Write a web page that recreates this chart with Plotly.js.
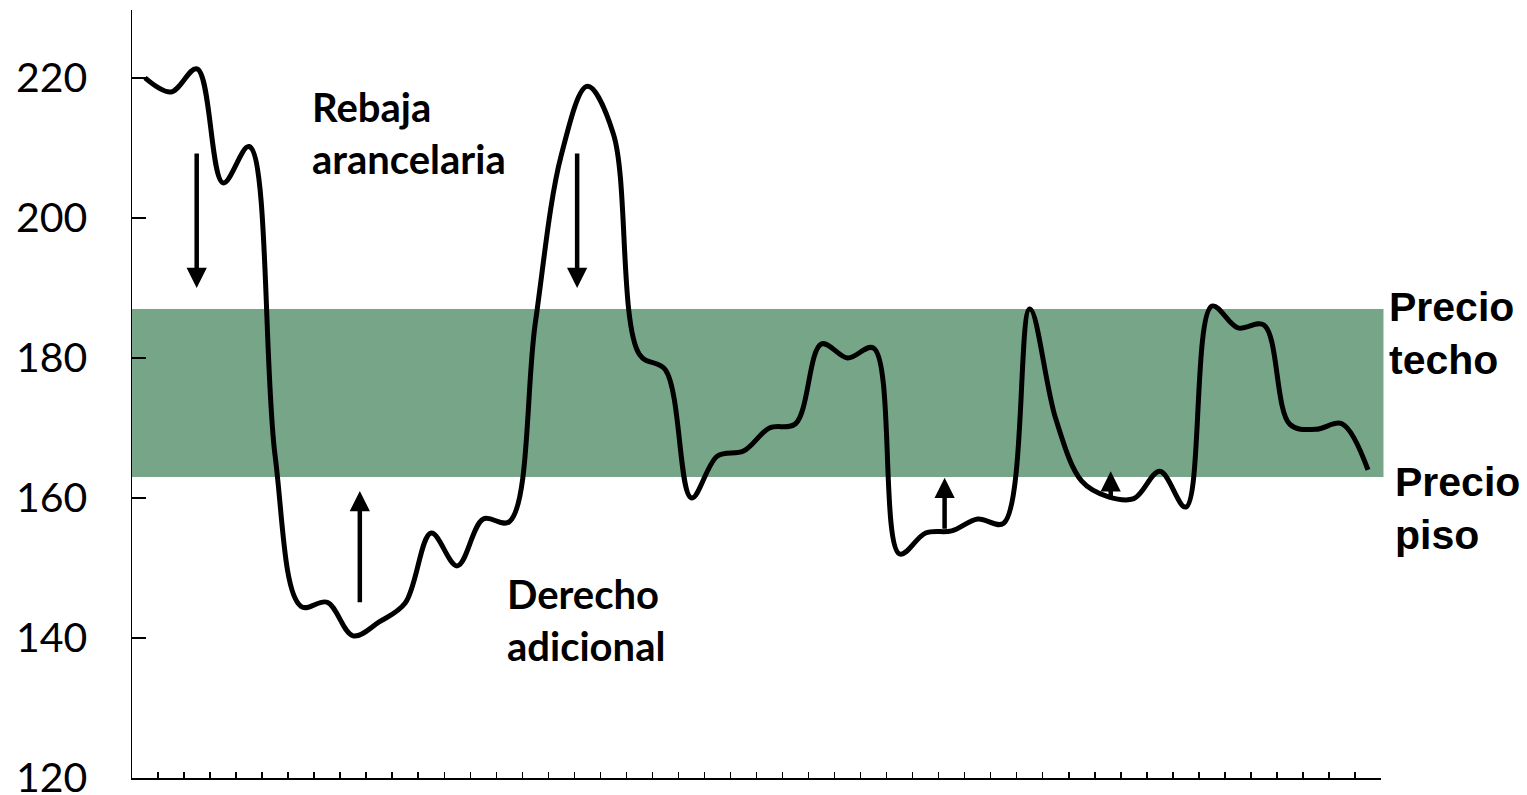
<!DOCTYPE html>
<html>
<head>
<meta charset="utf-8">
<script src="https://cdn.plot.ly/plotly-3.0.1.min.js"></script>
<style>
  html, body { margin: 0; padding: 0; background: #ffffff; }
  #chart { width: 1527px; height: 795px; }
</style>
</head>
<body>
<div id="chart"></div>
<script>
// ---- data ----
const periods = ['1','2','3','4','5','6','7','8','9','10','11','12','13','14','15','16',
  '17','18','19','20','21','22','23','24','25','26','27','28','29','30','31','32',
  '33','34','35','36','37','38','39','40','41','42','43','44','45','46','47','48'];
const prices = [220.0, 218.0, 221.3, 205.0, 210.2, 166.0, 144.5, 145.1,
  140.3, 142.3, 145.0, 155.0, 150.3, 157.0, 156.6, 185.0,
  209.0, 218.8, 212.0, 180.5, 178.3, 160.0, 166.0, 166.7,
  170.0, 170.6, 182.0, 180.0, 181.4, 152.0, 155.0, 155.3,
  157.0, 156.4, 187.0, 171.3, 162.4, 160.2, 159.9, 163.8,
  158.7, 187.4, 184.3, 184.7, 170.5, 169.8, 170.6, 164.0];
const priceFloor = 163;
const priceCeiling = 187;
const yTickVals = [120, 140, 160, 180, 200, 220];
const yTickText = ['120', '140', '160', '180', '200', '220'];

// arrows: horizontal position (fraction of plot width), tail value, tip value
const arrowPos  = [0.0518, 0.3564, 0.1824, 0.6506, 0.7836];
const arrowFrom = [209.4, 209.4, 144.9, 155.4, 159.6];
const arrowTo   = [190.0, 190.0, 161.0, 162.9, 163.8];

// ---- chart ----
const trace = {
  x: periods,
  y: prices,
  type: 'scatter',
  mode: 'lines',
  line: { color: '#000000', width: 5, shape: 'spline', smoothing: 1 },
  hoverinfo: 'skip',
  cliponaxis: false
};

const annotations = [];
for (let i = 0; i < arrowPos.length; i++) {
  annotations.push({
    xref: 'paper', yref: 'y', axref: 'pixel', ayref: 'y',
    x: arrowPos[i], y: arrowTo[i], ax: 0, ay: arrowFrom[i],
    text: '', showarrow: true, arrowhead: 2, arrowsize: 0.9,
    arrowwidth: 4.5, arrowcolor: '#000000', standoff: 0
  });
}
const boldCal = { family: 'Lato, "Open Sans", sans-serif', size: 40, color: '#000000', weight: 700 };
const boldArial = { family: '"Liberation Sans", Arial, sans-serif', size: 41, color: '#000000', weight: 700 };
annotations.push(
  { xref: 'paper', yref: 'paper', x: 0.1424, y: 0.8398, xanchor: 'left', yanchor: 'middle',
    align: 'left', showarrow: false, text: '<b>Rebaja<br>arancelaria</b>', font: boldCal },
  { xref: 'paper', yref: 'paper', x: 0.2987, y: 0.2057, xanchor: 'left', yanchor: 'middle',
    align: 'left', showarrow: false, text: '<b>Derecho<br>adicional</b>', font: boldCal },
  { xref: 'paper', yref: 'paper', x: 1.0045, y: 0.5788, xanchor: 'left', yanchor: 'middle',
    align: 'left', showarrow: false, text: '<b>Precio<br>techo</b>', font: boldArial },
  { xref: 'paper', yref: 'paper', x: 1.0095, y: 0.3503, xanchor: 'left', yanchor: 'middle',
    align: 'left', showarrow: false, text: '<b>Precio<br>piso</b>', font: boldArial }
);

const layout = {
  width: 1527, height: 795,
  margin: { l: 132, r: 146, t: 10, b: 17, pad: 0 },
  paper_bgcolor: '#ffffff', plot_bgcolor: 'rgba(0,0,0,0)',
  showlegend: false,
  xaxis: {
    type: 'category', range: [-0.5, 47.5],
    showgrid: false, zeroline: false,
    showline: true, linecolor: '#000000', linewidth: 2,
    ticks: 'inside', tickson: 'boundaries', ticklen: 6, tickwidth: 1.5, tickcolor: '#000000',
    showticklabels: false
  },
  yaxis: {
    range: [120, 229.7],
    showgrid: false, zeroline: false,
    showline: true, linecolor: '#000000', linewidth: 1.5,
    ticks: 'inside', ticklen: 14, tickwidth: 1.5, tickcolor: '#000000',
    tickmode: 'array', tickvals: yTickVals, ticktext: yTickText,
    ticklabelstandoff: 35, ticklabeloverflow: 'allow',
    tickfont: { family: 'Lato, "Open Sans", sans-serif', size: 41, color: '#000000' }
  },
  shapes: [{
    type: 'rect', xref: 'paper', yref: 'y', x0: 0, x1: 1.002,
    y0: priceFloor, y1: priceCeiling,
    fillcolor: '#76a588', line: { width: 0 }, layer: 'below'
  }],
  annotations: annotations
};

Plotly.newPlot('chart', [trace], layout, { staticPlot: true, displayModeBar: false });
</script>
</body>
</html>
